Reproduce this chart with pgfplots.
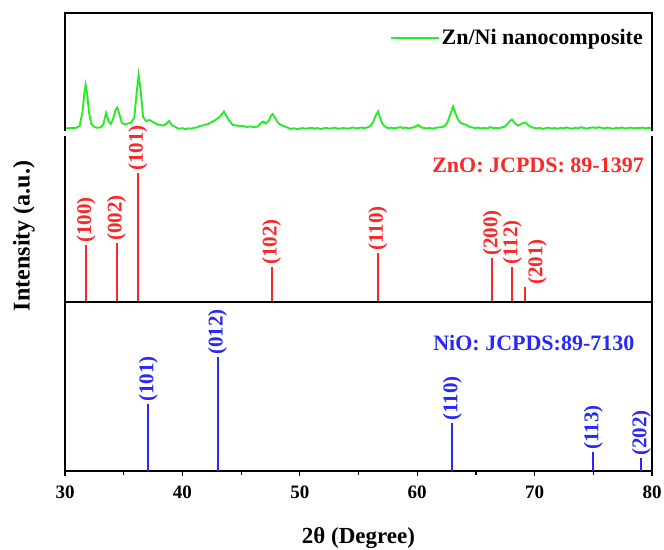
\documentclass[border=0pt]{standalone}
\usepackage{fontspec}
\setmainfont{Liberation Serif}
\usepackage{pgfplots}
\pgfplotsset{compat=1.18}
\definecolor{xgreen}{RGB}{40,235,40}
\definecolor{xred}{RGB}{250,40,40}
\definecolor{xblue}{RGB}{40,40,250}

\pgfplotsset{
  panel/.style={scale only axis, width=587pt, xmin=30, xmax=80, ymin=0, clip=false},
  stick/.style={ycomb, no marks, line width=2pt, nodes near coords, point meta=explicit symbolic},
  sticklabels/.style={every node near coord/.append style={rotate=90, anchor=west, inner sep=1.5pt,
      font=\fontsize{21}{21}\selectfont\bfseries, text=#1}},
}

\begin{document}
\begin{tikzpicture}

% top panel: measured pattern
\begin{axis}[panel, height=118pt, ymax=118, at={(65pt,418pt)}, anchor=south west, hide axis,
  legend style={draw=none, fill=none, at={(rel axis cs:1,1)}, anchor=north east, xshift=-4pt, yshift=-12pt,
    font=\fontsize{22}{22}\selectfont\bfseries},
  legend image code/.code={\draw[#1] (0pt,0pt) -- (48pt,0pt);}]
\addplot[xgreen, line width=1.9pt] coordinates {
(30.00,3.0) (30.25,2.6) (30.50,3.2) (30.75,2.8) (31.00,3.4) (31.25,5.0) (31.50,20) (31.65,38)
(31.76,46) (31.90,36) (32.05,18) (32.25,7) (32.50,4) (32.75,3.2) (33.00,3.6) (33.25,6)
(33.50,18) (33.70,10) (33.90,7) (34.10,12) (34.30,21) (34.45,23.5) (34.65,16) (34.85,8)
(35.10,6.5) (35.35,7.5) (35.60,8) (35.90,13) (36.10,38) (36.28,56) (36.45,40) (36.65,14)
(36.90,10) (37.20,11) (37.50,9) (37.80,7) (38.10,6) (38.40,5.5) (38.60,7) (38.86,10)
(39.10,6) (39.40,4) (39.70,2.2) (40.00,2.8) (40.25,1.8) (40.50,2.6) (40.75,2.4) (41.00,3.2)
(41.25,3.6) (41.50,5) (41.75,5.5) (42.00,6.5) (42.25,7.2) (42.50,9) (42.75,10.5) (43.00,12.5)
(43.25,15) (43.54,19.5) (43.75,15) (44.00,10) (44.30,6) (44.60,5.5) (44.90,5) (45.20,4.8)
(45.50,4) (45.80,4.6) (46.10,3.8) (46.40,4.4) (46.70,8) (46.90,9.5) (47.10,7.5) (47.35,10)
(47.55,15.5) (47.69,17) (47.90,13) (48.15,8) (48.40,6) (48.70,4.5) (49.00,3.2) (49.25,2)
(49.50,2.8) (49.75,1.8) (50.00,2.4) (50.25,3.0) (50.50,2.2) (50.75,2.8) (51.00,3.2) (51.25,2.4)
(51.50,3.0) (51.75,2.0) (52.00,2.6) (52.25,3.2) (52.50,2.4) (52.75,2.8) (53.00,3.4) (53.25,2.2)
(53.50,2.6) (53.75,3.0) (54.00,2.4) (54.25,2.8) (54.50,3.6) (54.75,2.6) (55.00,3.0) (55.25,3.4)
(55.50,2.8) (55.75,3.6) (56.00,5) (56.25,9) (56.45,15) (56.67,19.5) (56.85,13) (57.05,7)
(57.30,4) (57.55,2.8) (57.80,3.4) (58.05,2.6) (58.30,3.2) (58.55,3.8) (58.80,3.0) (59.05,3.4)
(59.30,2.6) (59.55,3.2) (59.80,4.2) (60.07,6) (60.30,4) (60.55,3.0) (60.80,2.6) (61.05,3.2)
(61.30,2.4) (61.55,3.0) (61.80,3.6) (62.05,3.8) (62.30,4.6) (62.55,8) (62.80,16) (63.05,24.5)
(63.25,18) (63.45,12) (63.70,8) (63.95,7) (64.20,6) (64.45,4.2) (64.70,3.6) (64.95,2.8)
(65.20,3.4) (65.45,2.6) (65.70,3.2) (65.95,2.4) (66.20,3.8) (66.45,3.0) (66.70,3.2) (66.95,2.6)
(67.20,3.6) (67.45,4.2) (67.70,7) (67.90,10) (68.07,11.5) (68.30,8) (68.55,5.5) (68.80,6.5)
(69.00,8) (69.20,8.5) (69.45,6) (69.70,4) (69.95,3.2) (70.20,2.6) (70.45,3.2) (70.70,2.0)
(70.95,2.8) (71.20,3.4) (71.45,2.4) (71.70,3.0) (71.95,2.2) (72.20,3.2) (72.45,2.6) (72.70,3.6)
(72.95,2.8) (73.20,2.2) (73.45,3.4) (73.70,2.6) (73.95,3.8) (74.20,3.0) (74.45,2.4) (74.70,3.2)
(74.95,3.6) (75.20,3.0) (75.45,3.8) (75.70,3.2) (75.95,2.6) (76.20,3.4) (76.45,2.8) (76.70,2.2)
(76.95,3.2) (77.20,2.6) (77.45,3.6) (77.70,2.4) (77.95,3.0) (78.20,3.4) (78.45,2.6) (78.70,3.2)
(78.95,2.8) (79.20,3.4) (79.45,2.6) (79.70,3.2) (80.00,3.0)};
\addlegendentry{Zn/Ni nanocomposite}
\draw[line width=1.4pt] (rel axis cs:0,0) -- (rel axis cs:0,1) -- (rel axis cs:1,1) -- (rel axis cs:1,0);
\end{axis}

% middle panel: ZnO reference
\begin{axis}[panel, height=166pt, ymax=166, at={(65pt,247pt)}, anchor=south west, hide axis, sticklabels=xred]
\addplot[stick, xred] coordinates {
(31.8,57) [(100)] (34.4,59) [(002)] (36.2,129) [(101)] (47.6,35) [(102)]
(56.65,49) [(110)] (66.4,44) [(200)] (68.1,35) [(112)]};
\addplot[stick, xred, every node near coord/.append style={anchor=north west}] coordinates {(69.2,15) [(201)]};
\node[anchor=east, text=xred, font=\fontsize{22}{22}\selectfont\bfseries] at (axis cs:79.6,137) {ZnO: JCPDS: 89-1397};
\draw[line width=1.4pt] (rel axis cs:0,1) -- (rel axis cs:0,0) -- (rel axis cs:1,0) -- (rel axis cs:1,1);
\end{axis}

% bottom panel: NiO reference
\begin{axis}[panel, height=169pt, ymax=169, at={(65pt,78pt)}, anchor=south west, sticklabels=xblue,
  axis line style={line width=1.4pt},
  xtick={30,40,...,80}, minor x tick num=1, ytick=\empty, tick pos=bottom, tick align=outside,
  major tick length=5pt, minor tick length=3.5pt,
  every tick/.style={black, line width=1.2pt},
  /pgf/number format/assume math mode=true,
  xticklabel style={font=\fontsize{19}{19}\selectfont\bfseries, yshift=-6pt},
  xlabel={2θ (Degree)},
  xlabel style={font=\fontsize{23}{23}\selectfont\bfseries, yshift=-22pt}]
\addplot[stick, xblue] coordinates {
(37.1,67) [(101)] (43.0,114) [(012)] (63.0,48) [(110)] (75.0,19) [(113)] (79.1,13) [(202)]};
\node[anchor=east, text=xblue, font=\fontsize{22}{22}\selectfont\bfseries] at (axis cs:78.8,128) {NiO: JCPDS:89-7130};
\end{axis}

\node[rotate=90, font=\fontsize{24}{24}\selectfont\bfseries] at (24pt,313pt) {Intensity (a.u.)};

\pgfresetboundingbox
\path[use as bounding box] (0,0) rectangle (664pt,549pt);
\end{tikzpicture}
\end{document}
